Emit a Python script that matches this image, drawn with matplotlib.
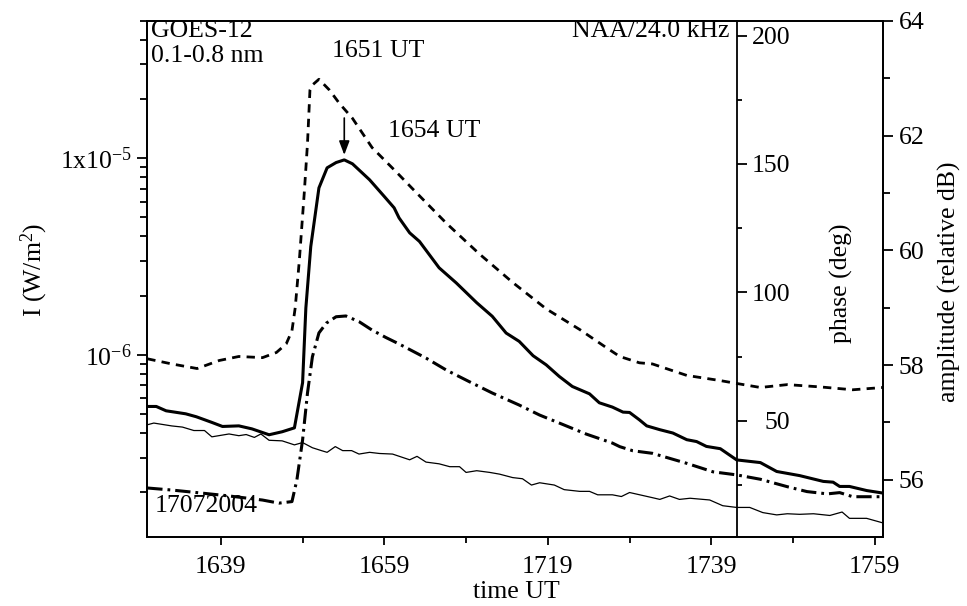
import numpy as np
import matplotlib.pyplot as plt

plt.rcParams['font.family'] = 'Liberation Serif'
plt.rcParams['mathtext.fontset'] = 'custom'
plt.rcParams['mathtext.rm'] = 'Liberation Serif'
plt.rcParams['mathtext.it'] = 'Liberation Serif:italic'
plt.rcParams['font.size'] = 18.5
plt.rcParams['lines.scale_dashes'] = False

# time in minutes after 16:00 UT, 17 July 2004
t_xray = [30.0, 31.1, 32.3, 34.7, 36.0, 37.9, 39.2, 41.2, 42.8, 44.9, 46.5, 48.0, 49.0, 49.4, 50.0,
          51.0, 52.0, 53.1, 54.1, 55.1, 57.2, 59.0, 60.2, 60.8, 62.1, 63.3, 65.7, 67.8, 70.3, 72.2,
          73.9, 75.5, 77.2, 78.8, 80.4, 82.0, 84.1, 85.3, 86.9, 88.2, 89.0, 90.2, 91.1, 92.7, 94.3,
          96.0, 97.2, 98.4, 100.1, 102.1, 105.0, 107.0, 109.8, 112.7, 113.9, 114.7, 115.9, 118.0, 120.0]
xray = [5.46e-7, 5.46e-7, 5.19e-7, 5.01e-7, 4.84e-7, 4.53e-7, 4.32e-7, 4.35e-7, 4.20e-7, 3.92e-7,
        4.06e-7, 4.25e-7, 7.21e-7, 1.73e-6, 3.55e-6, 7.06e-6, 8.93e-6, 9.50e-6, 9.80e-6, 9.36e-6,
        7.76e-6, 6.38e-6, 5.59e-6, 4.97e-6, 4.17e-6, 3.77e-6, 2.77e-6, 2.32e-6, 1.84e-6, 1.57e-6,
        1.29e-6, 1.17e-6, 9.89e-7, 8.89e-7, 7.76e-7, 6.90e-7, 6.33e-7, 5.70e-7, 5.42e-7, 5.11e-7,
        5.09e-7, 4.67e-7, 4.35e-7, 4.16e-7, 4.00e-7, 3.70e-7, 3.62e-7, 3.42e-7, 3.33e-7, 2.92e-7,
        2.83e-7, 2.55e-7, 2.43e-7, 2.27e-7, 2.25e-7, 2.14e-7, 2.14e-7, 2.04e-7, 1.98e-7]

# NAA amplitude (dB)
t_amp = [30.0, 33.0, 36.1, 38.8, 41.2, 44.1, 45.8, 47.0, 47.7, 48.1, 48.6, 49.2, 49.6, 49.9, 50.2,
         51.0, 52.3, 53.5, 55.1, 57.5, 60.5, 62.4, 66.6, 70.6, 74.7, 78.8, 82.9, 86.2, 87.8, 90.2,
         91.8, 96.0, 100.1, 102.1, 105.0, 108.3, 112.3, 116.3, 120.0]
amp = [58.11, 58.02, 57.94, 58.08, 58.15, 58.13, 58.22, 58.37, 58.60, 59.00, 59.82, 60.99, 61.86,
       62.79, 62.88, 62.98, 62.79, 62.56, 62.30, 61.79, 61.36, 61.08, 60.47, 59.94, 59.44, 58.98,
       58.62, 58.30, 58.15, 58.04, 58.02, 57.82, 57.73, 57.68, 57.61, 57.66, 57.62, 57.57, 57.61]

# NAA phase (deg)
t_ph = [30.0, 33.0, 36.7, 40.0, 44.1, 46.1, 47.7, 48.3, 49.0, 49.6, 50.2, 51.0, 51.9, 53.1, 54.3,
        55.9, 57.5, 59.2, 60.8, 64.1, 66.6, 69.4, 72.2, 75.5, 78.0, 80.4, 83.7, 86.9, 87.8, 89.4,
        91.8, 96.0, 99.2, 102.1, 105.0, 108.3, 110.7, 113.2, 114.7, 116.3, 120.0]
phase = [23.8, 23.0, 21.8, 20.7, 19.1, 17.9, 18.5, 26.9, 42.5, 60.8, 74.9, 84.2, 88.0, 90.5, 90.8,
         88.6, 85.3, 82.4, 79.9, 74.4, 69.7, 65.2, 60.8, 56.1, 52.2, 49.1, 44.8, 41.3, 39.9, 38.3,
         37.3, 33.4, 30.1, 28.9, 27.2, 24.3, 22.4, 21.5, 22.0, 20.4, 20.4]

# reference amplitude (thin line)
t_ref = [30.0, 30.8, 33.0, 34.3, 35.7, 37.0, 37.9, 40.0, 41.2, 42.1, 43.1, 43.9, 44.9, 46.5, 48.0,
         49.0, 50.2, 51.3, 52.0, 53.0, 53.9, 55.0, 55.9, 57.2, 58.4, 60.0, 62.1, 63.0, 64.1, 65.7,
         67.0, 68.2, 69.0, 70.3, 71.9, 73.1, 74.7, 75.9, 77.0, 78.0, 79.8, 81.0, 82.9, 84.1, 85.1,
         86.9, 88.0, 89.0, 91.8, 92.7, 93.9, 95.1, 96.4, 98.8, 100.4, 102.1, 103.7, 105.3, 107.0,
         108.3, 109.8, 111.5, 113.5, 115.0, 115.9, 118.0, 120.0]
amp_ref = [56.96, 56.99, 56.94, 56.92, 56.86, 56.86, 56.75, 56.80, 56.77, 56.79, 56.74, 56.80, 56.69,
           56.68, 56.61, 56.65, 56.56, 56.51, 56.48, 56.58, 56.51, 56.51, 56.45, 56.48, 56.46, 56.45,
           56.35, 56.41, 56.31, 56.28, 56.23, 56.23, 56.13, 56.16, 56.13, 56.10, 56.04, 56.02, 55.91,
           55.95, 55.91, 55.83, 55.80, 55.80, 55.74, 55.74, 55.71, 55.78, 55.69, 55.66, 55.72, 55.66,
           55.68, 55.65, 55.55, 55.52, 55.52, 55.43, 55.39, 55.41, 55.40, 55.41, 55.38, 55.44, 55.33,
           55.33, 55.25]

x_ticks = [39, 59, 79, 99, 119]
x_labels = ['1639', '1659', '1719', '1739', '1759']
x_minor = [49, 69, 89, 109]
i_ticks = [1e-6, 1e-5]
i_labels = [r'$\mathregular{10^{-6}}$', r'$\mathregular{1x10^{-5}}$']
ph_ticks = [50, 100, 150, 200]
ph_minor = [25, 75, 125, 175]
amp_ticks = [56, 58, 60, 62, 64]
amp_minor = [57, 59, 61, 63]

fig = plt.figure(figsize=(9.67, 6.06), dpi=100)
ax = fig.add_axes([0.1523, 0.1134, 0.7608, 0.8524])
ax_amp = ax.twinx()
ax_ph = ax.twinx()

ax.plot(t_xray, xray, color='black', lw=2.2)
ax.set_yscale('log')
ax.set_ylim(1.18e-7, 5.0e-5)
ax.set_xlim(30, 120)

ax_amp.plot(t_amp, amp, color='black', lw=2.0, dashes=(6, 4.5))
ax_amp.plot(t_ref, amp_ref, color='black', lw=0.9)
ax_amp.set_ylim(55, 64)

ax_ph.plot(t_ph, phase, color='black', lw=2.2, dashes=(11, 3.6, 2, 3.6))
ax_ph.set_ylim(4.6, 205.8)

# axes styling
for a in (ax, ax_amp, ax_ph):
    for s in a.spines.values():
        s.set_linewidth(1.3)
for s in ('left', 'top', 'bottom'):
    ax_ph.spines[s].set_visible(False)
ax_ph.spines['right'].set_position(('axes', 0.801))

ax.set_xticks(x_ticks, x_labels)
ax.set_xticks(x_minor, minor=True)
ax.set_yticks(i_ticks, i_labels)
ax.yaxis.set_minor_locator(plt.matplotlib.ticker.LogLocator(subs=np.arange(2, 10)))
ax.yaxis.set_minor_formatter(plt.NullFormatter())
ax.tick_params(axis='x', which='major', direction='out', length=6, width=1.3, pad=7.5)
ax.tick_params(axis='x', which='minor', direction='out', length=4, width=1.3)
ax.tick_params(axis='y', which='major', direction='out', length=7, width=1.3, pad=4)
ax.tick_params(axis='y', which='minor', direction='out', length=4.8, width=1.3)

ax_amp.set_yticks(amp_ticks)
ax_amp.set_yticks(amp_minor, minor=True)
ax_amp.tick_params(axis='y', which='major', direction='out', length=7, width=1.3, pad=4.5)
ax_amp.tick_params(axis='y', which='minor', direction='out', length=4.8, width=1.3)

ax_ph.set_yticks(ph_ticks)
ax_ph.set_yticks(ph_minor, minor=True)
ax_ph.tick_params(axis='y', which='major', direction='out', length=7, width=1.3, pad=31.5)
ax_ph.tick_params(axis='y', which='minor', direction='out', length=3.6, width=1.3)
for lbl in ax_ph.get_yticklabels():
    lbl.set_horizontalalignment('right')

# annotations
tp = t_xray[int(np.argmax(xray))]
ax.annotate('', xy=(tp, max(xray) * 1.06), xytext=(tp, 1.6e-5),
            arrowprops=dict(arrowstyle='-|>,head_length=0.45,head_width=0.17',
                            color='black', lw=1.2, shrinkA=0, shrinkB=0))
ax.text(0.327, 0.775, '1654 UT', transform=ax.transAxes, ha='left', va='baseline')
ax.text(0.251, 0.93, '1651 UT', transform=ax.transAxes, ha='left', va='baseline')
ax.text(0.005, 0.968, 'GOES-12', transform=ax.transAxes, ha='left', va='baseline')
ax.text(0.005, 0.921, '0.1-0.8 nm', transform=ax.transAxes, ha='left', va='baseline')
ax.text(0.7907, 0.9685, 'NAA/24.0 kHz', transform=ax.transAxes, ha='right', va='baseline')
ax.text(0.0105, 0.0496, '17072004', transform=ax.transAxes, ha='left', va='baseline')

fig.text(516 / 967, 1 - 592 / 606, 'time UT', ha='center', va='center')
fig.text(34 / 967, 1 - 270 / 606, r'I (W/m$^\mathregular{2}$)', ha='center', va='center', rotation=90)
fig.text(841 / 967, 1 - 283 / 606, 'phase (deg)', ha='center', va='center', rotation=90)
fig.text(949 / 967, 1 - 282 / 606, 'amplitude (relative dB)', ha='center', va='center', rotation=90)

fig.savefig('out.png', dpi=100)
